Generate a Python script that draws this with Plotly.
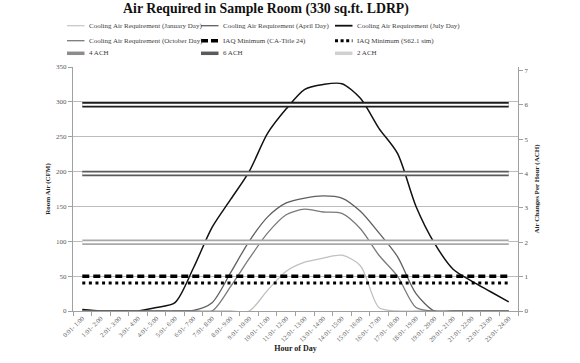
import plotly.graph_objects as go

hours = [f"{h}:01- {h+1}:00" for h in range(24)]

jan = [0, 0, 0, 0, 0, 0, 0, 0, 0, 0, 30, 57, 70, 76, 80, 65, 5, 0, 0, 0, 0, 0, 0, 0]
apr = [0, 0, 0, 0, 0, 0, 1, 12, 55, 100, 135, 155, 162, 165, 162, 143, 112, 78, 25, 0, 0, 0, 0, 0]
jul = [2, 0, 0, 0, 5, 12, 62, 120, 160, 200, 255, 290, 318, 325, 326, 305, 262, 226, 150, 97, 60, 43, 28, 13]
octo = [0, 0, 0, 0, 0, 0, 0, 0, 35, 75, 112, 138, 146, 142, 140, 118, 80, 50, 5, 0, 0, 0, 0, 0]
iaq_t24 = [50] * 24
iaq_621 = [40] * 24
ach4 = [4] * 24
ach6 = [6] * 24
ach2 = [2] * 24

FONT = "Liberation Serif"

W, H = 580, 363
PL, PR, PT, PB = 73, 518, 67, 311  # plot area in page pixels

def px2paper_x(px):
    return (px - PL) / (PR - PL)

def px2paper_y(py):
    return (PB - py) / (PB - PT)

fig = go.Figure()

def curve(y, name, color, width):
    fig.add_trace(go.Scatter(x=hours, y=y, name=name, mode="lines",
                             line=dict(color=color, width=width, shape="spline", smoothing=0.8)))

curve(jan, "Cooling Air Requirement (January Day)", "#c0c0c0", 1.3)
curve(apr, "Cooling Air Requirement (April Day)", "#5f5f5f", 1.3)
curve(jul, "Cooling Air Requirement (July Day)", "#111111", 1.5)
curve(octo, "Cooling Air Requirement (October Day)", "#7a7a7a", 1.3)

fig.add_trace(go.Scatter(x=hours, y=iaq_t24, name="IAQ Minimum (CA-Title 24)", mode="lines",
                         line=dict(color="#000000", width=3.5, dash="7px,4px")))
fig.add_trace(go.Scatter(x=hours, y=iaq_621, name="IAQ Minimum (S62.1 sim)", mode="lines",
                         line=dict(color="#000000", width=3, dash="3px,3.6px")))

def ach(y, name, color):
    fig.add_trace(go.Scatter(x=hours, y=y, name=name, mode="lines", yaxis="y2",
                             line=dict(color=color, width=5.5)))
    fig.add_trace(go.Scatter(x=hours, y=y, mode="lines", yaxis="y2",
                             hoverinfo="skip", line=dict(color="#ffffff", width=2)))

ach(ach4, "4 ACH", "#5a5a5a")
ach(ach6, "6 ACH", "#1c1c1c")
ach(ach2, "2 ACH", "#a8a8a8")

# custom legend (3 columns x 3 rows)
legend_items = [
    ("Cooling Air Requirement (January Day)", dict(color="#c8c8c8", width=1.3)),
    ("Cooling Air Requirement (April Day)", dict(color="#5f5f5f", width=1.3)),
    ("Cooling Air Requirement (July Day)", dict(color="#111111", width=1.8)),
    ("Cooling Air Requirement (October Day)", dict(color="#7a7a7a", width=1.3)),
    ("IAQ Minimum (CA-Title 24)", dict(color="#000000", width=3.5, dash="7px,3px")),
    ("IAQ Minimum (S62.1 sim)", dict(color="#000000", width=3, dash="3px,2.6px")),
    ("4 ACH", dict(color="#8c8c8c", width=3.5)),
    ("6 ACH", dict(color="#5a5a5a", width=3.5)),
    ("2 ACH", dict(color="#d0d0d0", width=3.5)),
]
col_x = [67, 201, 335]
row_y = [25.7, 40.7, 53.3]
shapes = []
annotations = []
for k, (label, ls) in enumerate(legend_items):
    r, c = divmod(k, 3)
    x0 = col_x[c]
    yy = px2paper_y(row_y[r])
    shapes.append(dict(type="line", xref="paper", yref="paper",
                       x0=px2paper_x(x0), x1=px2paper_x(x0 + 17.5), y0=yy, y1=yy, line=ls))
    annotations.append(dict(text=label, xref="paper", yref="paper",
                            x=px2paper_x(x0 + 19.5), y=yy, xanchor="left", yanchor="middle",
                            showarrow=False, font=dict(family=FONT, size=7, color="#404040")))

fig.update_layout(
    width=W, height=H,
    margin=dict(l=PL, r=W - PR, t=PT, b=H - PB, autoexpand=False),
    paper_bgcolor="white", plot_bgcolor="white",
    showlegend=False,
    font=dict(family=FONT, color="#404040", size=8),
    title=dict(text="<b>Air Required in Sample Room (330 sq.ft. LDRP)</b>",
               x=266 / W, xanchor="center", xref="container",
               y=1 - 8.5 / H, yanchor="middle",
               font=dict(family=FONT, size=13.8, color="#111111")),
    shapes=shapes,
    annotations=annotations,
    xaxis=dict(type="category", range=[-0.5, 23.5], showgrid=False,
               showline=True, linecolor="#a0a0a0", linewidth=1,
               ticks="outside", tickson="boundaries", ticklen=4, tickcolor="#a0a0a0",
               tickangle=-45, tickfont=dict(family=FONT, size=6.5, color="#595959"),
               title=dict(text="<b>Hour of Day</b>", font=dict(family=FONT, size=8, color="#222222"), standoff=3)),
    yaxis=dict(range=[0, 350], dtick=50, showgrid=True, gridcolor="#bcbcbc", gridwidth=1,
               showline=True, linecolor="#a0a0a0", zeroline=False,
               ticks="outside", ticklen=4, tickcolor="#a0a0a0",
               tickfont=dict(family=FONT, size=7, color="#595959"),
               title=dict(text="<b>Room Air (CFM)</b>", font=dict(family=FONT, size=7, color="#222222"), standoff=4)),
    yaxis2=dict(range=[0, 7.1], dtick=1, overlaying="y", side="right", showgrid=False,
                showline=True, linecolor="#a0a0a0", zeroline=False,
                ticks="outside", ticklen=4, tickcolor="#a0a0a0",
                tickfont=dict(family=FONT, size=7, color="#595959"),
                title=dict(text="<b>Air Changes Per Hour (ACH)</b>", font=dict(family=FONT, size=7, color="#222222"), standoff=6)),
)

fig.write_html("out.html", config={"displayModeBar": False},
               post_script="document.body.style.margin='0';")
